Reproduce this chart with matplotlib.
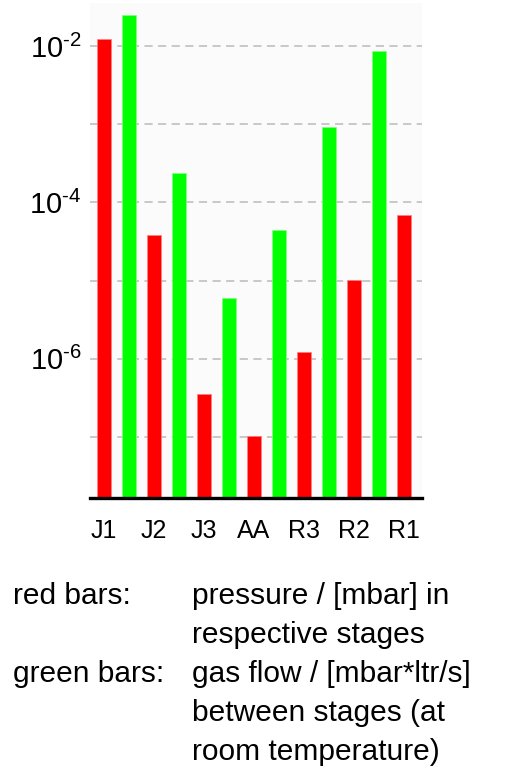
import matplotlib
matplotlib.use('Agg')
import matplotlib.pyplot as plt
import numpy as np

plt.rcParams['font.family'] = ['Liberation Sans', 'DejaVu Sans']
plt.rcParams['mathtext.fontset'] = 'custom'
plt.rcParams['mathtext.rm'] = 'Liberation Sans'
plt.rcParams['mathtext.it'] = 'Liberation Sans:italic'
plt.rcParams['mathtext.bf'] = 'Liberation Sans:bold'

# stages (red bars: pressure in mbar)
stages = ['J1', 'J2', 'J3', 'AA', 'R3', 'R2', 'R1']
pressure = [1.23e-2, 3.8e-5, 3.5e-7, 1.03e-7, 1.23e-6, 1.03e-5, 6.85e-5]
# gas flow between stages (green bars: mbar*ltr/s)
flow = [2.47e-2, 2.35e-4, 6.0e-6, 4.5e-5, 9.1e-4, 8.55e-3]

ytick_vals = [1e-7, 1e-6, 1e-5, 1e-4, 1e-3, 1e-2]
ytick_labels = ['', r'$10^{\text{-6}}$', '', r'$10^{\text{-4}}$', '', r'$10^{\text{-2}}$']

legend_lines = [
    ('red bars:', ['pressure / [mbar] in', 'respective stages']),
    ('green bars:', ['gas flow / [mbar*ltr/s]', 'between stages (at', 'room temperature)']),
]

fig = plt.figure(figsize=(5.16, 7.71), dpi=100)
ax = fig.add_axes([90 / 516, 1 - 497.7 / 771, 332 / 516, 494.7 / 771])
ax.set_facecolor('#fbfbfb')

xp = np.arange(len(stages)) * 2
xf = np.arange(len(flow)) * 2 + 1
ax.bar(xp, pressure, width=0.56, color='#ff0000', edgecolor='#ff8080', linewidth=0.5, zorder=3)
ax.bar(xf, flow, width=0.56, color='#00ff00', edgecolor='#80ff80', linewidth=0.5, zorder=3)

ax.set_yscale('log')
ax.set_ylim(10 ** -7.776, 10 ** -1.45)
ax.set_xlim(-0.56, 12.72)
ax.set_yticks(ytick_vals)
ax.set_yticklabels(ytick_labels)
ax.yaxis.set_minor_locator(matplotlib.ticker.NullLocator())
ax.set_xticks(xp)
ax.set_xticklabels(stages)

ax.tick_params(axis='y', length=0, pad=6, labelsize=21)
ax.tick_params(axis='x', length=0, pad=15, labelsize=18)
ax.grid(axis='y', color='#c8c8c8', linewidth=1.4, linestyle=(0, (4.2, 2.8)), zorder=1)

for s in ['top', 'right', 'left']:
    ax.spines[s].set_visible(False)
ax.spines['bottom'].set_linewidth(2.4)
ax.spines['bottom'].set_color('black')
ax.spines['bottom'].set_zorder(4)

y = 604
for head, lines in legend_lines:
    fig.text(13 / 516, 1 - y / 771, head, fontsize=21.5, va='baseline', ha='left')
    for ln in lines:
        fig.text(192 / 516, 1 - y / 771, ln, fontsize=21.5, va='baseline', ha='left')
        y += 39

fig.savefig('out.png', dpi=100)
